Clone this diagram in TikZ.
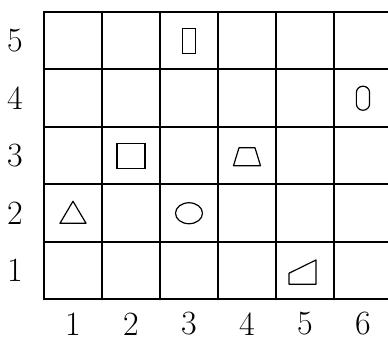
\documentclass[tikz,border=0pt]{standalone}
\usetikzlibrary{shapes.geometric}

\begin{document}
\begin{tikzpicture}[x=0.5pt,y=-0.5pt,
    gridline/.style={line width=1pt,line cap=round},
    fig/.style={draw,line width=0.6pt,inner sep=0pt},
    lab/.style={font=\fontsize{17}{17}\selectfont,inner sep=0pt}]
  \useasboundingbox (0,0) rectangle (388,341);
  % grid (the right border lies off the page)
  \foreach \k in {0,...,5}
    \draw[gridline] (44,12+57.5*\k) -- (392,12+57.5*\k);
  \foreach \k in {0,...,6}
    \draw[gridline] (44+58*\k,12) -- (44+58*\k,299.5);
  % cell centres and axis labels
  \foreach \c in {1,...,6}
    \foreach \r in {1,...,5}
      \coordinate (c\c\r) at (15+58*\c,328.25-57.5*\r);
  \foreach \r in {1,...,5}
    \node[lab] (row\r) at (15,328.25-57.5*\r) {\r};
  \foreach \c in {1,...,6}
    \node[lab] (col\c) at (15+58*\c,324) {\c};
  % figures
  \node[fig,minimum width=6.5pt,minimum height=12.5pt] (bar) at (c35) {};
  \node[fig,rounded corners=3.2pt,minimum width=6.6pt,minimum height=12pt] (oval) at (c64) {};
  \node[fig,minimum width=14pt,minimum height=12.5pt] (square) at (c23) {};
  \draw[fig,line join=round,shift={(c43)}] (-13.5,10) -- (-8,-8) -- (8,-8) -- (13.5,10) -- cycle;
  \draw[fig,line join=round,shift={(c12)}] (-13,10) -- (0,-12) -- (13,10) -- cycle;
  \node[fig,ellipse,minimum width=13.5pt,minimum height=10.5pt] (circ) at (c32) {};
  \draw[fig,line join=round,shift={(c51)}] (-16,13.5) -- (-16,2.5) -- (11,-10.75) -- (11,13.5) -- cycle;
\end{tikzpicture}
\end{document}
